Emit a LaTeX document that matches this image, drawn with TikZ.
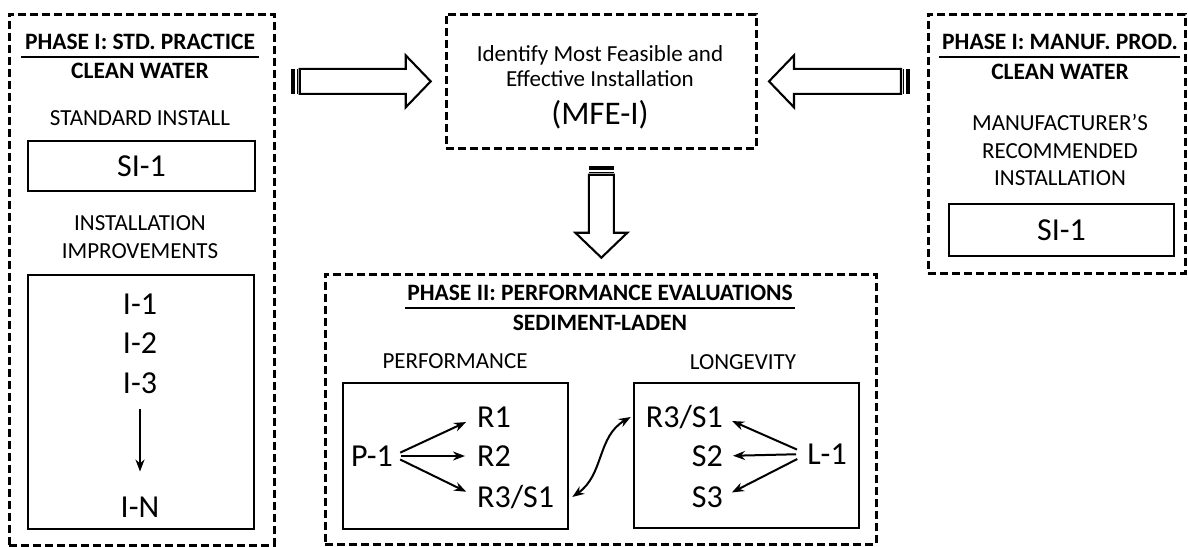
\documentclass[tikz,border=0pt]{standalone}
\usepackage{fontspec}
\setmainfont{Carlito}
\usetikzlibrary{arrows.meta,calc}

\tikzset{
  phasebox/.style={draw, line width=2.7pt, dash pattern=on 8pt off 4pt, anchor=north west, inner sep=0pt},
  solidbox/.style={draw, line width=2.1pt, anchor=north west, inner sep=0pt},
  headtxt/.style={font=\fontsize{23.5}{28}\selectfont\bfseries, inner sep=0pt},
  midtxt/.style={font=\fontsize{23}{28}\selectfont, inner sep=0pt, align=center},
  bigtxt/.style={font=\fontsize{32}{38}\selectfont, inner sep=0pt},
  link/.style={line width=2pt, -{Stealth[length=12pt,width=9pt]}},
  underrule/.style={line width=2pt}
}

\newcommand{\fatarrow}[3]{%
  \begin{scope}[shift={(#1)}, rotate=#2]
    \fill (0,-12.5) rectangle (4,12.5);
    \draw[line width=1.4pt] (6.5,-12.5) -- (6.5,12.5);
    \draw[line width=2.1pt, fill=white] (9,-12.5) -- (#3-25,-12.5) -- (#3-25,-26) -- (#3,0) -- (#3-25,26) -- (#3-25,12.5) -- (9,12.5) -- cycle;
  \end{scope}}

\begin{document}
\begin{tikzpicture}[x=1pt, y=-1pt]
\useasboundingbox (0,0) rectangle (1188,546);

\node[phasebox, minimum width=265pt, minimum height=531pt] (stdbox) at (8,13) {};
\node[phasebox, minimum width=310pt, minimum height=134pt] (mfebox) at (445,13) {};
\node[phasebox, minimum width=257pt, minimum height=259pt] (manufbox) at (927,13) {};
\node[phasebox, minimum width=551pt, minimum height=270pt] (evalbox) at (324,273) {};

\node[headtxt] (stdhead) at (140,42) {PHASE I: STD. PRACTICE};
\draw[underrule] ([xshift=-4pt,yshift=-7.4pt]stdhead.south west) -- ([xshift=4pt,yshift=-7.4pt]stdhead.south east);
\node[headtxt] (stdsub) at (140,71) {CLEAN WATER};
\node[midtxt] (stdlbl) at (140,118) {STANDARD INSTALL};
\node[solidbox, minimum width=227pt, minimum height=50pt] (sibox) at (27,140) {};
\node[bigtxt] (si) at (sibox.center) {SI-1};
\node[midtxt] (implbl) at (140,237) {INSTALLATION\\IMPROVEMENTS};
\node[solidbox, minimum width=226pt, minimum height=254pt] (impbox) at (27,274) {};
\node[bigtxt] (i1) at (140,304) {I-1};
\node[bigtxt] (i2) at (140,343) {I-2};
\node[bigtxt] (i3) at (140,383) {I-3};
\node[bigtxt] (iN) at (140,507) {I-N};
\draw[link, shorten <=15pt, shorten >=25pt] (i3.south) -- (iN.north);

\node[midtxt, font=\fontsize{23}{25}\selectfont] (mfetxt) at (600,66) {Identify Most Feasible and\\Effective Installation};
\node[bigtxt, font=\fontsize{33}{38}\selectfont] (mfe) at (600,115) {(MFE-I)};

\node[headtxt] (manhead) at (1060,42) {PHASE I: MANUF. PROD.};
\draw[underrule] ([xshift=-3pt,yshift=-7.4pt]manhead.south west) -- ([xshift=2pt,yshift=-7.4pt]manhead.south east);
\node[headtxt] (mansub) at (1060,72) {CLEAN WATER};
\node[midtxt, font=\fontsize{23}{27.5}\selectfont] (manlbl) at (1060,150) {MANUFACTURER’S\\RECOMMENDED\\INSTALLATION};
\node[solidbox, minimum width=225pt, minimum height=52pt] (sibox2) at (948,203) {};
\node[bigtxt] (si2) at (sibox2.center) {SI-1};

\node[headtxt] (evalhead) at (600,293) {PHASE II: PERFORMANCE EVALUATIONS};
\draw[underrule] ([xshift=-2pt,yshift=-7.4pt]evalhead.south west) -- ([xshift=2pt,yshift=-7.4pt]evalhead.south east);
\node[headtxt] (evalsub) at (600,323) {SEDIMENT-LADEN};
\node[midtxt] (perflbl) at (455,361) {PERFORMANCE};
\node[midtxt] (longlbl) at (743,362) {LONGEVITY};
\node[solidbox, minimum width=225pt, minimum height=146pt] (perfbox) at (342,382) {};
\node[solidbox, minimum width=225pt, minimum height=145pt] (longbox) at (633,382) {};

\node[bigtxt] (p1) at (372,456) {P-1};
\node[bigtxt, anchor=west] (r1) at (477,417) {R1};
\node[bigtxt, anchor=west] (r2) at (477,456) {R2};
\node[bigtxt, anchor=west] (r3a) at (477,497) {R3/S1};
\node[bigtxt, anchor=east] (r3b) at (723,417) {R3/S1};
\node[bigtxt, anchor=east] (s2) at (723,456) {S2};
\node[bigtxt, anchor=east] (s3) at (723,497) {S3};
\node[bigtxt] (l1) at (827,454) {L-1};

\foreach \to in {r1,r2,r3a}
  \draw[link, shorten <=8pt, shorten >=12pt] (p1.east) -- (\to.west);
\foreach \to in {r3b,s2,s3}
  \draw[link, shorten <=11pt, shorten >=10pt] (l1.west) -- (\to.east);
\draw[link, {Stealth[length=12pt,width=9pt]}-{Stealth[length=12pt,width=9pt]}] ([xshift=18pt]r3a.east) to[out=35,in=210] ([xshift=-15pt]r3b.west);

\fatarrow{$(stdbox.east |- mfebox.center)+(15,0)$}{0}{140}
\fatarrow{$(manufbox.west |- mfebox.center)+(-17,0)$}{180}{141}
\fatarrow{$(mfebox.south)+(0,16)$}{-90}{92}
\end{tikzpicture}
\end{document}
